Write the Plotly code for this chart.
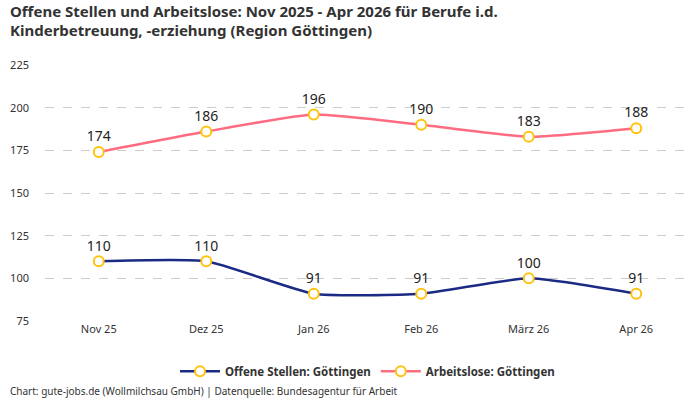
import plotly.graph_objects as go

months = ["Nov 25", "Dez 25", "Jan 26", "Feb 26", "März 26", "Apr 26"]
offene = [110, 110, 91, 91, 100, 91]
arbeitslose = [174, 186, 196, 190, 183, 188]
y_ticks = [75, 100, 125, 150, 175, 200, 225]
title_lines = [
    "Offene Stellen und Arbeitslose: Nov 2025 - Apr 2026 für Berufe i.d.",
    "Kinderbetreuung, -erziehung (Region Göttingen)",
]

FONT = "Noto Sans"
marker = dict(size=10, color="white", line=dict(color="#FFC20E", width=2))

fig = go.Figure()
fig.add_trace(go.Scatter(
    x=months, y=offene, name="<b>Offene Stellen: Göttingen</b>",
    mode="lines+markers+text", text=[str(v) for v in offene],
    textposition="top center", textfont=dict(size=14, color="#222", family=FONT),
    line=dict(color="#1B2A84", width=2.5, shape="spline", smoothing=0.5),
    marker=marker, cliponaxis=False,
))
fig.add_trace(go.Scatter(
    x=months, y=arbeitslose, name="<b>Arbeitslose: Göttingen</b>",
    mode="lines+markers+text", text=[str(v) for v in arbeitslose],
    textposition="top center", textfont=dict(size=14, color="#222", family=FONT),
    line=dict(color="#FF6B81", width=2.5, shape="spline", smoothing=0.5),
    marker=marker, cliponaxis=False,
))

fig.update_layout(
    width=700, height=400,
    margin=dict(l=45, r=10, t=65, b=79),
    paper_bgcolor="white", plot_bgcolor="white",
    font=dict(family=FONT, color="#333"),
    xaxis=dict(
        type="category", range=[-0.5, 5.5], showgrid=False, zeroline=False,
        showline=False, ticks="", tickfont=dict(size=11, color="#333"),
    ),
    yaxis=dict(
        range=[75, 225], tickvals=y_ticks, showgrid=True,
        gridcolor="#cccccc", griddash="dash", gridwidth=1, zeroline=False,
        showline=False, ticks="", tickfont=dict(size=11, color="#333"),
        ticklabelstandoff=15,
    ),
    legend=dict(
        orientation="h", x=0.5, xanchor="center", y=-0.14, yanchor="top",
        font=dict(size=11.5, color="#333", family=FONT),
        itemwidth=40,
    ),
    showlegend=True,
)
for line, ypos in zip(title_lines, [1.211, 1.137]):
    fig.add_annotation(
        text=f"<b>{line}</b>",
        xref="paper", yref="paper", x=-0.057, y=ypos, xanchor="left", yanchor="middle",
        align="left", showarrow=False, font=dict(size=15, color="#333", family=FONT),
    )
fig.add_annotation(
    text="Chart: gute-jobs.de (Wollmilchsau GmbH) | Datenquelle: Bundesagentur für Arbeit",
    xref="paper", yref="paper", x=-0.057, y=-0.273, xanchor="left", yanchor="middle",
    showarrow=False, font=dict(size=10, color="#333", family=FONT),
)
fig.write_html("out.html")
